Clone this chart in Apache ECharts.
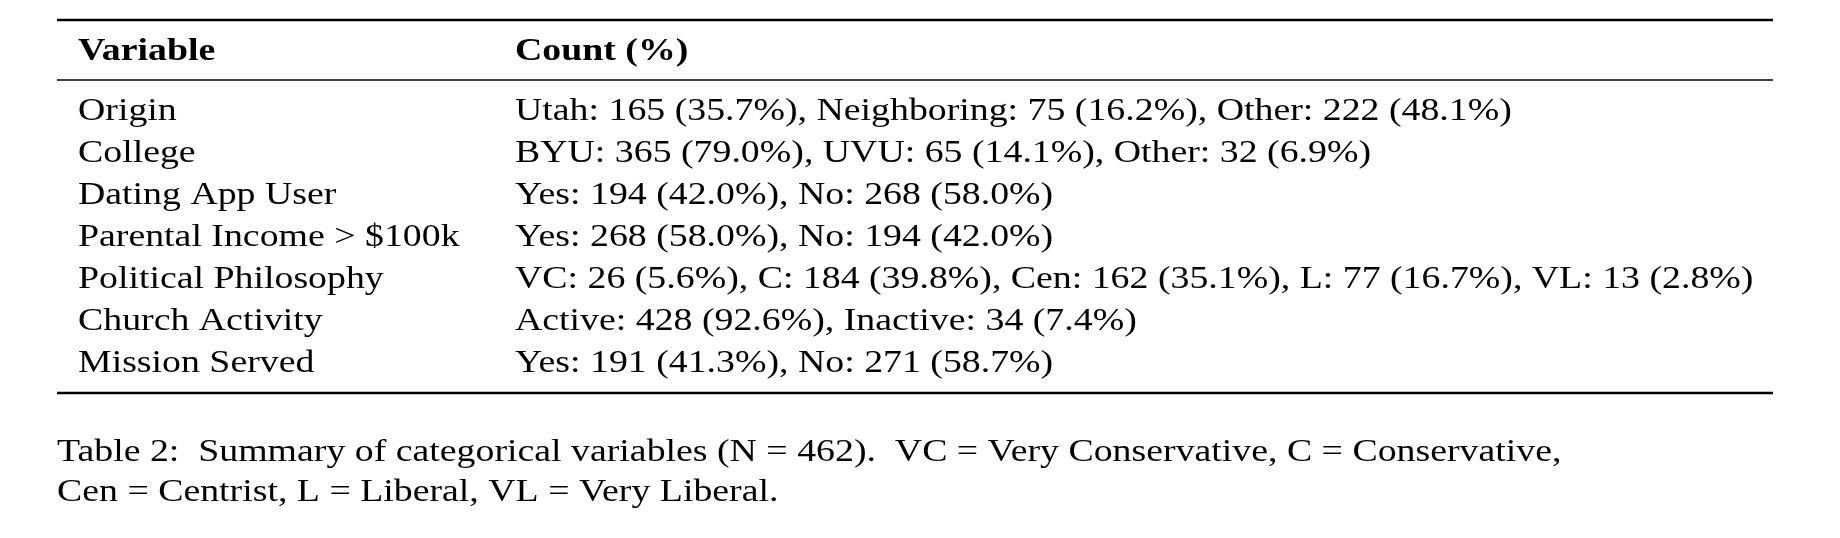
<!DOCTYPE html>
<html><head><meta charset="utf-8">
<script src="https://cdn.jsdelivr.net/npm/echarts@6/dist/echarts.min.js"></script>
<style>html,body{margin:0;background:#fff}#c{width:1840px;height:538px}</style>
</head><body><div id="c"></div>
<script>
const headers = ['Variable', 'Count (%)'];
const variables = ['Origin','College','Dating App User','Parental Income > $100k','Political Philosophy','Church Activity','Mission Served'];
const levels = [
  ['Utah','Neighboring','Other'],
  ['BYU','UVU','Other'],
  ['Yes','No'],
  ['Yes','No'],
  ['VC','C','Cen','L','VL'],
  ['Active','Inactive'],
  ['Yes','No']
];
const counts = [
  [165,75,222],[365,65,32],[194,268],[268,194],[26,184,162,77,13],[428,34],[191,271]
];
const percents = [
  [35.7,16.2,48.1],[79.0,14.1,6.9],[42.0,58.0],[58.0,42.0],[5.6,39.8,35.1,16.7,2.8],[92.6,7.4],[41.3,58.7]
];
const captionLines = [
  'Table 2:  Summary of categorical variables (N = 462).  VC = Very Conservative, C = Conservative,',
  'Cen = Centrist, L = Liberal, VL = Very Liberal.'
];

const FONT = '"Liberation Serif", "DejaVu Serif", serif';
const FS = 31, SX = 1.22;
const x0 = 57, x1 = 1773, col1 = 78, col2 = 515;
const rowY0 = 112, rowStep = 41.9;
const els = [];
function rule(y, w){ els.push({type:'rect', shape:{x:x0, y:y-w/2, width:x1-x0, height:w}, style:{fill:'#000'}}); }
function txt(x, y, s, bold){
  els.push({type:'text', x:x, y:y, scaleX:SX, originX:0, originY:0, style:{text:s, font:(bold?'bold ':'')+FS+'px '+FONT, fill:'#000', textVerticalAlign:'middle'}});
}
rule(20, 2.4); rule(80, 1.4); rule(393, 2.4);
txt(col1, 52, headers[0], true); txt(col2, 52, headers[1], true);
variables.forEach((v,i)=>{
  const y = rowY0 + i*rowStep;
  txt(col1, y, v);
  const s = levels[i].map((l,j)=> l+': '+counts[i][j]+' ('+percents[i][j].toFixed(1)+'%)').join(', ');
  txt(col2, y, s);
});
captionLines.forEach((c,i)=> txt(57, 453 + i*40, c));
const chart = echarts.init(document.getElementById('c'));
chart.setOption({graphic:{elements:els}});
</script></body></html>
